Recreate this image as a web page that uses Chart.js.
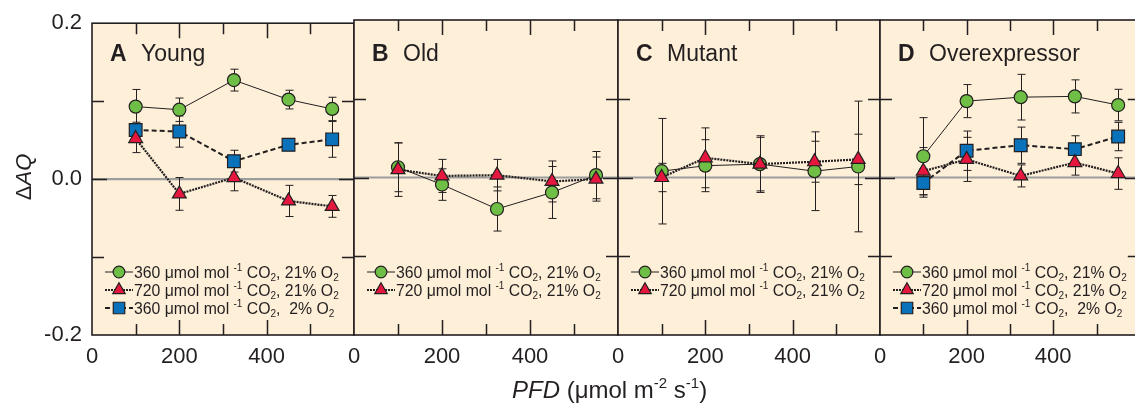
<!DOCTYPE html>
<html>
<head>
<meta charset="utf-8">
<script src="https://cdn.jsdelivr.net/npm/chart.js@4/dist/chart.umd.min.js"></script>
<style>
  html, body { margin: 0; padding: 0; overflow: hidden; background: #fff; width: 1135px; height: 406px; }
  canvas { position: absolute; left: 0; top: 0; }
</style>
</head>
<body>
<canvas id="pA" width="1150" height="406"></canvas>
<canvas id="pB" width="1150" height="406"></canvas>
<canvas id="pC" width="1150" height="406"></canvas>
<canvas id="pD" width="1150" height="406"></canvas>
<script>
// PFD levels (umol m-2 s-1)
var pfd = [100, 200, 325, 450, 550];

// A Young
var youngG = [0.093, 0.089, 0.127, 0.102, 0.090];
var youngGErr = [0.022, 0.015, 0.014, 0.012, 0.015];
var youngR = [0.052, -0.019, 0.002, -0.028, -0.035];
var youngRErr = [0.018, 0.021, 0.017, 0.020, 0.014];
var youngB = [0.063, 0.061, 0.023, 0.044, 0.051];
var youngBErr = [0.010, 0.020, 0.014, 0.005, 0.023];

// B Old
var oldG = [0.013, -0.009, -0.040, -0.019, 0.003];
var oldGErr = [0.031, 0.020, 0.028, 0.033, 0.030];
var oldR = [0.010, 0.002, 0.003, -0.005, -0.002];
var oldRErr = [0.034, 0.021, 0.020, 0.026, 0.028];

// C Mutant
var mutG = [0.008, 0.015, 0.017, 0.008, 0.014];
var mutGErr = [0.067, 0.033, 0.034, 0.050, 0.083];
var mutR = [0.000, 0.025, 0.017, 0.020, 0.023];
var mutRErr = [0.018, 0.038, 0.036, 0.026, 0.032];

// D Overexpressor
var overG = [0.027, 0.097, 0.102, 0.103, 0.092];
var overGErr = [0.049, 0.021, 0.029, 0.021, 0.020];
var overR = [0.008, 0.023, 0.002, 0.019, 0.005];
var overRErr = [0.030, 0.028, 0.014, 0.016, 0.020];
var overB = [-0.007, 0.034, 0.041, 0.036, 0.052];
var overBErr = [0.018, 0.025, 0.023, 0.017, 0.018];

var labG = '360 μmol mol ^{-1} CO_{2}, 21% O_{2}';
var labR = '720 μmol mol ^{-1} CO_{2}, 21% O_{2}';
var labB = '360 μmol mol ^{-1} CO_{2},  2% O_{2}';
var yTickLabels = ['-0.2', '0.0', '0.2'];
var xTickLabels = ['0', '200', '400'];

var W = 1150;
var ink = '#231f20';
var bg = '#fdefd8';
var font = '"Liberation Sans", Arial, sans-serif';

function pts(ys) {
  return pfd.map(function (x, i) { return { x: x, y: ys[i] }; });
}

function green(ys, err) {
  return { label: labG, data: pts(ys), errorBars: err, order: 3,
    borderColor: ink, borderWidth: 1, pointStyle: 'circle', pointRadius: 6.5,
    pointBackgroundColor: '#6fbe45', pointBorderColor: ink, pointBorderWidth: 1.2 };
}
function red(ys, err) {
  return { label: labR, data: pts(ys), errorBars: err, order: 1,
    borderColor: ink, borderWidth: 2.2, borderDash: [2, 1], pointStyle: 'triangle', pointRadius: 8,
    pointBackgroundColor: '#e5173f', pointBorderColor: ink, pointBorderWidth: 1.2 };
}
function blue(ys, err) {
  return { label: labB, data: pts(ys), errorBars: err, order: 2,
    borderColor: ink, borderWidth: 2, borderDash: [5, 3], pointStyle: 'rect', pointRadius: 9,
    pointBackgroundColor: '#0a72ba', pointBorderColor: ink, pointBorderWidth: 1.2 };
}

// draws text with ^{sup} and _{sub} parts
function richText(ctx, str, x, y, size) {
  var parts = str.split(/(\^\{[^}]*\}|_\{[^}]*\})/);
  ctx.textAlign = 'left';
  ctx.textBaseline = 'alphabetic';
  parts.forEach(function (p) {
    if (!p) return;
    if (p[0] === '^') {
      ctx.font = Math.round(size * 0.62) + 'px ' + font;
      p = p.slice(2, -1);
      ctx.fillText(p, x, y - size * 0.4);
    } else if (p[0] === '_') {
      ctx.font = Math.round(size * 0.62) + 'px ' + font;
      p = p.slice(2, -1);
      ctx.fillText(p, x, y + size * 0.2);
    } else {
      ctx.font = size + 'px ' + font;
      ctx.fillText(p, x, y);
    }
    x += ctx.measureText(p).width;
  });
  return x;
}

var panelPlugin = {
  id: 'panel',
  beforeDraw: function (chart) {
    var a = chart.chartArea, ctx = chart.ctx;
    ctx.save();
    ctx.fillStyle = bg;
    ctx.fillRect(a.left, a.top, a.right - a.left, a.bottom - a.top);
    ctx.restore();
  },
  beforeDatasetsDraw: function (chart) {
    var a = chart.chartArea, ctx = chart.ctx, xs = chart.scales.x, ys = chart.scales.y;
    ctx.save();
    ctx.strokeStyle = '#9d9d9d';
    ctx.lineWidth = 2.2;
    var y0 = ys.getPixelForValue(0);
    ctx.beginPath(); ctx.moveTo(a.left, y0); ctx.lineTo(a.right, y0); ctx.stroke();
    // error bars
    ctx.strokeStyle = ink;
    ctx.lineWidth = 1;
    chart.data.datasets.forEach(function (ds) {
      ds.data.forEach(function (p, j) {
        var e = ds.errorBars[j];
        var px = Math.round(xs.getPixelForValue(p.x)) + 0.5;
        var t = ys.getPixelForValue(p.y + e), b = ys.getPixelForValue(p.y - e);
        ctx.beginPath();
        ctx.moveTo(px, t); ctx.lineTo(px, b);
        ctx.moveTo(px - 4, t); ctx.lineTo(px + 4, t);
        ctx.moveTo(px - 4, b); ctx.lineTo(px + 4, b);
        ctx.stroke();
      });
    });
    ctx.restore();
  },
  afterDatasetsDraw: function (chart) {
    var a = chart.chartArea, ctx = chart.ctx, xs = chart.scales.x, ys = chart.scales.y;
    var opt = chart.options.plugins.panel;
    ctx.save();
    ctx.strokeStyle = ink;
    ctx.lineWidth = 1.5;
    ctx.beginPath();
    xs.ticks.forEach(function (t) {
      if (t.value <= 0 || t.value >= 600) return;
      var px = Math.round(xs.getPixelForValue(t.value)) + 0.5;
      var len = t.value % 200 === 0 ? 15 : 11;
      ctx.moveTo(px, a.top); ctx.lineTo(px, a.top + len);
      ctx.moveTo(px, a.bottom); ctx.lineTo(px, a.bottom - len);
    });
    ys.ticks.forEach(function (t) {
      if (Math.abs(t.value) > 0.15) return;
      var py = Math.round(ys.getPixelForValue(t.value)) + 0.5;
      var len = Math.abs(t.value) < 1e-9 ? 15 : 12;
      ctx.moveTo(a.left, py); ctx.lineTo(a.left + len, py);
      ctx.moveTo(a.right, py); ctx.lineTo(a.right - len, py);
    });
    ctx.stroke();
    ctx.lineWidth = 1.6;
    ctx.strokeRect(a.left, a.top, a.right - a.left, a.bottom - a.top);

    // panel title
    ctx.fillStyle = ink;
    ctx.textBaseline = 'alphabetic';
    ctx.font = 'bold 23px ' + font;
    ctx.fillText(opt.letter, a.left + 18, 61);
    ctx.font = '23px ' + font;
    ctx.fillText(opt.name, a.left + 49, 61);

    // legend
    chart.data.datasets.forEach(function (ds, i) {
      var cy = 272 + 18 * i;
      ctx.save();
      ctx.strokeStyle = ink;
      ctx.lineWidth = ds.borderWidth;
      ctx.setLineDash(ds.borderDash || []);
      ctx.beginPath(); ctx.moveTo(a.left + 13, cy); ctx.lineTo(a.left + 41, cy); ctx.stroke();
      ctx.setLineDash([]);
      ctx.fillStyle = ds.pointBackgroundColor;
      ctx.lineWidth = ds.pointBorderWidth;
      Chart.helpers.drawPoint(ctx, { pointStyle: ds.pointStyle, radius: ds.pointRadius * 0.9,
        borderWidth: ds.pointBorderWidth, rotation: 0 }, a.left + 27, cy);
      ctx.restore();
      ctx.fillStyle = ink;
      richText(ctx, ds.label, a.left + 42, cy + 5.5, 15.8);
    });
    ctx.restore();
  },
  afterDraw: function (chart) {
    if (!chart.options.plugins.panel.axisTitles) return;
    var ctx = chart.ctx;
    ctx.save();
    ctx.fillStyle = ink;
    ctx.textBaseline = 'alphabetic';
    // x title
    ctx.font = 'italic 24px ' + font;
    var w1 = ctx.measureText('PFD').width;
    var x0 = 512;
    ctx.fillText('PFD', x0, 398);
    richText(ctx, ' (μmol m^{-2} s^{-1})', x0 + w1, 398, 24);
    // y title
    ctx.translate(31, 177);
    ctx.rotate(-Math.PI / 2);
    ctx.font = '22px ' + font;
    var wd = ctx.measureText('Δ').width;
    ctx.font = 'italic 22px ' + font;
    var wa = ctx.measureText('AQ').width;
    var sx = -(wd + wa) / 2;
    ctx.font = '22px ' + font;
    ctx.fillText('Δ', sx, 0);
    ctx.font = 'italic 22px ' + font;
    ctx.fillText('AQ', sx + wd, 0);
    ctx.restore();
  }
};

function makeChart(id, left, right, letter, name, datasets, first) {
  return new Chart(document.getElementById(id), {
    type: 'line',
    data: { datasets: datasets },
    options: {
      responsive: false,
      animation: false,
      layout: { padding: { left: first ? 0 : left, right: W - right, top: 20, bottom: 0 } },
      elements: { line: { tension: 0 } },
      plugins: {
        legend: { display: false },
        tooltip: { enabled: false },
        panel: { letter: letter, name: name, axisTitles: first }
      },
      scales: {
        x: {
          type: 'linear', min: 0, max: 600,
          grid: { display: false, drawTicks: false },
          border: { display: false },
          ticks: {
            stepSize: 100, autoSkip: false, maxRotation: 0, padding: 9, color: ink,
            font: { family: font, size: 22 },
            callback: function (v) { return xTickLabels.indexOf(String(v)) >= 0 ? String(v) : ''; }
          },
          afterFit: function (s) { s.height = 71; }
        },
        y: {
          type: 'linear', min: -0.2, max: 0.2,
          grid: { display: false, drawTicks: false },
          border: { display: false },
          ticks: {
            display: first, stepSize: 0.1, padding: 10, color: ink,
            font: { family: font, size: 22 },
            callback: function (v) {
              var s = (Math.round(v * 10) / 10).toFixed(1);
              if (s === '-0.0') s = '0.0';
              return yTickLabels.indexOf(s) >= 0 ? s : '';
            }
          },
          afterFit: function (s) { s.width = first ? 92 : 0; }
        }
      }
    },
    plugins: [panelPlugin]
  });
}

makeChart('pA', 92, 354, 'A', 'Young',
  [green(youngG, youngGErr), red(youngR, youngRErr), blue(youngB, youngBErr)], true);
makeChart('pB', 354, 618, 'B', 'Old',
  [green(oldG, oldGErr), red(oldR, oldRErr)], false);
makeChart('pC', 618, 880, 'C', 'Mutant',
  [green(mutG, mutGErr), red(mutR, mutRErr)], false);
makeChart('pD', 880, 1144, 'D', 'Overexpressor',
  [green(overG, overGErr), red(overR, overRErr), blue(overB, overBErr)], false);
</script>
</body>
</html>
